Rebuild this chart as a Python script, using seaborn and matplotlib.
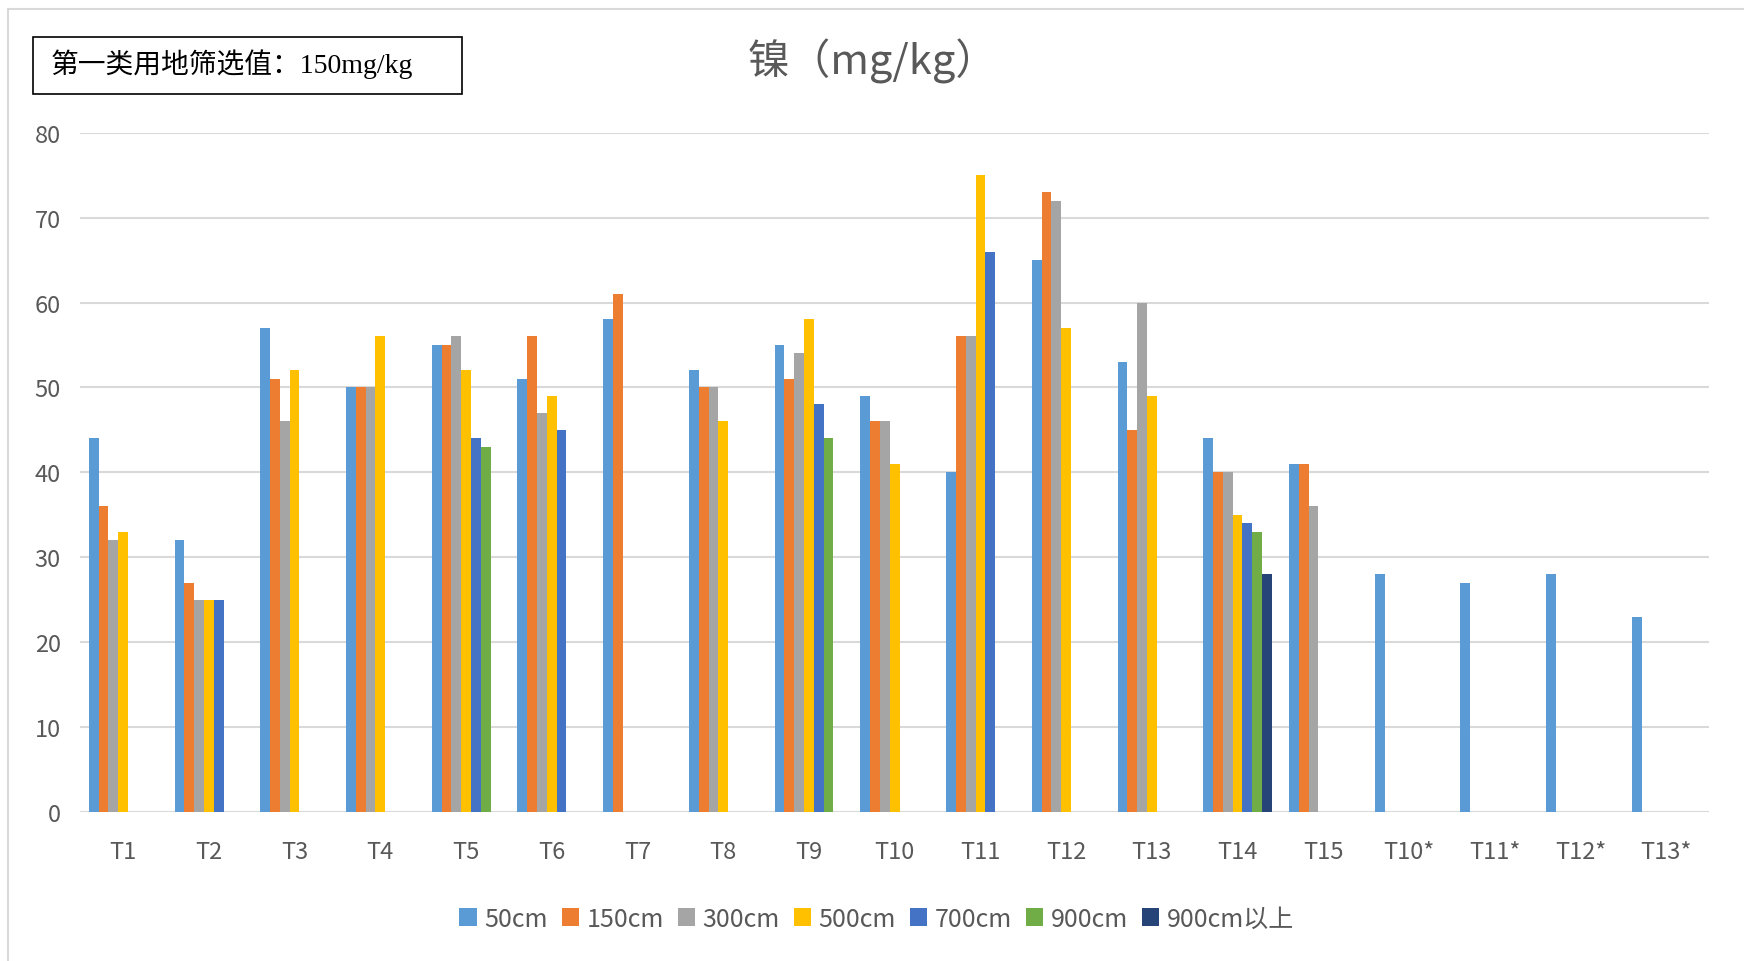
import numpy as np
import pandas as pd
import matplotlib
matplotlib.use("Agg")
import matplotlib.pyplot as plt
import seaborn as sns
from matplotlib.patches import Rectangle

# sampling points and depth series
points = ["T1", "T2", "T3", "T4", "T5", "T6", "T7", "T8", "T9", "T10",
          "T11", "T12", "T13", "T14", "T15", "T10*", "T11*", "T12*", "T13*"]
depths = ["50cm", "150cm", "300cm", "500cm", "700cm", "900cm", "900cm以上"]

d50 = [44, 32, 57, 50, 55, 51, 58, 52, 55, 49, 40, 65, 53, 44, 41, 28, 27, 28, 23]
d150 = [36, 27, 51, 50, 55, 56, 61, 50, 51, 46, 56, 73, 45, 40, 41, None, None, None, None]
d300 = [32, 25, 46, 50, 56, 47, None, 50, 54, 46, 56, 72, 60, 40, 36, None, None, None, None]
d500 = [33, 25, 52, 56, 52, 49, None, 46, 58, 41, 75, 57, 49, 35, None, None, None, None, None]
d700 = [None, 25, None, None, 44, 45, None, None, 48, None, 66, None, None, 34, None, None, None, None, None]
d900 = [None, None, None, None, 43, None, None, None, 44, None, None, None, None, 33, None, None, None, None, None]
d900up = [None, None, None, None, None, None, None, None, None, None, None, None, None, 28, None, None, None, None, None]

colors = ["#5B9BD5", "#ED7D31", "#A5A5A5", "#FFC000", "#4472C4", "#70AD47", "#264478"]

rows = []
for dep, vals in zip(depths, [d50, d150, d300, d500, d700, d900, d900up]):
    for p, v in zip(points, vals):
        rows.append({"point": p, "depth": dep, "value": np.nan if v is None else v})
df = pd.DataFrame(rows)

sns.set_style("white")
plt.rcParams["font.family"] = ["Noto Sans CJK SC", "DejaVu Sans"]

fig = plt.figure(figsize=(17.44, 9.62), dpi=100)
ax = fig.add_axes([0.046, 0.155, 0.934, 0.706])

sns.barplot(data=df, x="point", y="value", hue="depth", order=points,
            hue_order=depths, palette=colors, width=0.8, saturation=1,
            errorbar=None, linewidth=0, ax=ax)

ax.set_ylim(0, 80)
ax.set_xlim(-0.5, len(points) - 0.5)
ax.set_yticks(range(0, 81, 10))
ax.yaxis.grid(True, color="#D9D9D9", linewidth=1.5)
ax.set_axisbelow(True)
for s in ax.spines.values():
    s.set_visible(False)
ax.tick_params(axis="both", length=0, colors="#595959", labelsize=17)
ax.tick_params(axis="y", pad=14)
ax.tick_params(axis="x", pad=20)
ax.set_xlabel("")
ax.set_ylabel("")

ax.legend(loc="upper center", bbox_to_anchor=(0.489, -0.105), ncol=7, frameon=False,
          fontsize=18, handlelength=0.7, handleheight=0.7, handletextpad=0.3,
          columnspacing=0.55, labelcolor="#595959")

fig.text(0.5, 0.936, "镍（mg/kg）", ha="center", va="center", fontsize=30, color="#595959")

# screening value note box
fig.text(0.029, 0.933, "第一类用地筛选值：150mg/kg", ha="left", va="center", fontsize=20,
         family=["Liberation Serif", "Noto Sans CJK SC"], color="black")
fig.add_artist(Rectangle((33 / 1744, 1 - 95 / 962), (462 - 33) / 1744, 57 / 962,
                         transform=fig.transFigure, fill=False, edgecolor="black", linewidth=1.2))

# outer chart border
fig.add_artist(Rectangle((8 / 1744, -0.01), 1.0, 1 - 10 / 962 + 0.01,
                         transform=fig.transFigure, fill=False, edgecolor="#D9D9D9", linewidth=1.5))

fig.savefig("out.png", dpi=100)
